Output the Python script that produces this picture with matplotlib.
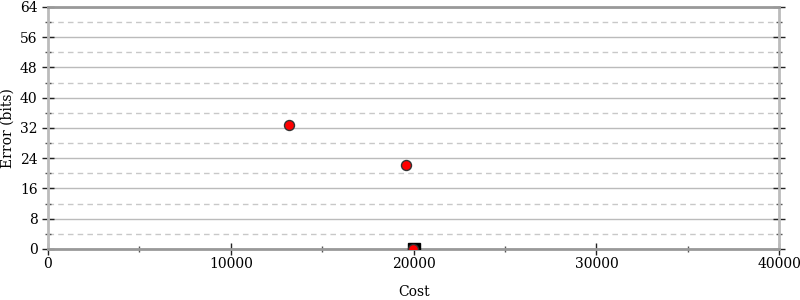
import numpy as np
import matplotlib
matplotlib.use('Agg')
import matplotlib.pyplot as plt

# Data
circle_cost = [13190, 19570, 19950]
circle_err = [32.8, 22.2, 0.0]
square_cost = [20030]
square_err = [0.0]

plt.rcParams['font.family'] = 'DejaVu Serif'

fig = plt.figure(figsize=(8, 3), dpi=100)
ax = fig.add_axes([0.06, 0.17, 0.914, 0.807])

ax.set_xlim(0, 40000)
ax.set_ylim(0, 64)
ax.set_xticks(np.arange(0, 40001, 10000))
ax.set_xticks(np.arange(5000, 40000, 10000), minor=True)
ax.set_yticks(np.arange(0, 65, 8))
ax.set_yticks(np.arange(4, 64, 8), minor=True)

ax.grid(axis='y', which='major', color='#bbbbbb', lw=1, ls='-')
ax.grid(axis='y', which='minor', color='#c8c8c8', lw=1, ls=(0, (4, 3)))
ax.set_axisbelow(True)

for side, col in [('left', '#bbbbbb'), ('right', '#bbbbbb'),
                  ('top', '#999999'), ('bottom', '#999999')]:
    ax.spines[side].set_color(col)
    ax.spines[side].set_linewidth(2)

ax.tick_params(axis='both', which='major', direction='inout', length=8, width=1,
               color='#222222', labelsize=10)
ax.tick_params(axis='both', which='minor', direction='inout', length=5, width=1,
               color='#555555')
ax.tick_params(axis='y', which='both', right=True)
ax.tick_params(axis='x', pad=2)

ax.plot(square_cost, square_err, 's', ms=8.6, mfc='black', mec='black',
        zorder=3, clip_on=True)
ax.plot(circle_cost, circle_err, 'o', ms=7.2, mfc='red', mec='#333333', mew=1,
        zorder=4, clip_on=True)

ax.set_xlabel('Cost', fontsize=10, labelpad=10)
ax.set_ylabel('Error (bits)', fontsize=10, labelpad=4)

fig.savefig('out.png', dpi=100)
